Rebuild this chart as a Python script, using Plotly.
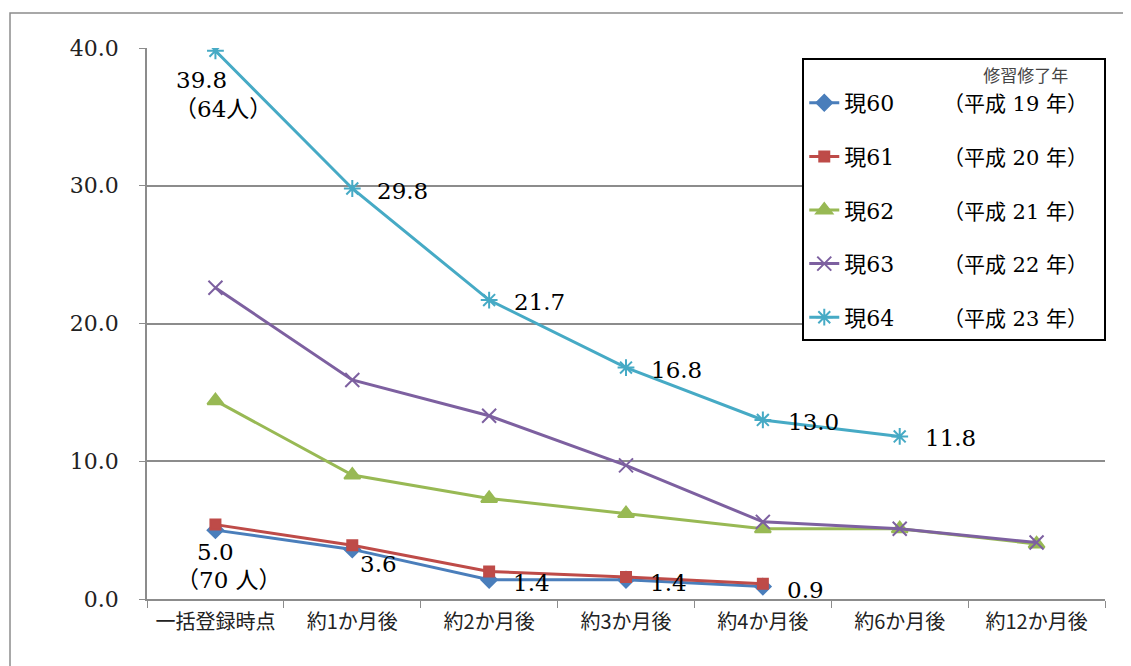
import plotly.graph_objects as go

categories = ["一括登録時点", "約1か月後", "約2か月後", "約3か月後", "約4か月後", "約6か月後", "約12か月後"]

names = ["現60", "現61", "現62", "現63", "現64"]
years = ["（平成 19 年）", "（平成 20 年）", "（平成 21 年）", "（平成 22 年）", "（平成 23 年）"]
gen60 = [5.0, 3.6, 1.4, 1.4, 0.9]
gen61 = [5.4, 3.9, 2.0, 1.6, 1.1]
gen62 = [14.4, 9.0, 7.3, 6.2, 5.1, 5.1, 4.0]
gen63 = [22.6, 15.9, 13.3, 9.7, 5.6, 5.1, 4.1]
gen64 = [39.8, 29.8, 21.7, 16.8, 13.0, 11.8]
notes = {"現60": "（70 人）", "現64": "（64人）"}

series = [gen60, gen61, gen62, gen63, gen64]
colors = ["#4A7EBB", "#BE4B48", "#98B954", "#7D60A0", "#46AAC5"]
symbols = ["diamond", "square", "triangle-up", "x-thin-open", "asterisk-open"]
sizes = [12, 10, 14, 14, 14]

serif = "DejaVu Serif, Noto Sans CJK JP"

fig = go.Figure()
for i, (name, vals) in enumerate(zip(names, series)):
    fig.add_trace(go.Scatter(
        x=categories[:len(vals)], y=vals,
        name=name + "<span style='font-size:21px'>　　 " + years[i] + "　</span>",
        legendgroup=name,
        mode="lines+markers",
        line=dict(color=colors[i], width=3),
        marker=dict(symbol=symbols[i], size=sizes[i], color=colors[i],
                    line=dict(color=colors[i], width=2)),
    ))

# data labels for 現64 and 現60
for j, v in enumerate(gen64):
    if j == 0:
        fig.add_annotation(x=categories[j], y=v, text=f"{v:.1f}", showarrow=False,
                           xshift=-14, yshift=-29)
        fig.add_annotation(x=categories[j], y=v, text=notes["現64"], showarrow=False,
                           xshift=8, yshift=-58)
    else:
        fig.add_annotation(x=categories[j], y=v, text=f"{v:.1f}", showarrow=False,
                           xanchor="left", xshift=23, yshift=-2)

for j, v in enumerate(gen60):
    if j == 0:
        fig.add_annotation(x=categories[j], y=v, text=f"{v:.1f}", showarrow=False,
                           yshift=-22)
        fig.add_annotation(x=categories[j], y=v, text=notes["現60"], showarrow=False,
                           xshift=14, yshift=-50)
    elif j == 1:
        fig.add_annotation(x=categories[j], y=v, text=f"{v:.1f}", showarrow=False,
                           xanchor="left", xshift=6, yshift=-15)
    else:
        fig.add_annotation(x=categories[j], y=v, text=f"{v:.1f}", showarrow=False,
                           xanchor="left", xshift=22, yshift=-3)

# outer chart frame
fig.add_shape(type="rect", xref="paper", yref="paper",
              x0=-0.143, x1=1.035, y0=-0.135, y1=1.0635,
              line=dict(color="#8C8C8C", width=1.5), layer="below")

fig.update_layout(
    width=1123, height=658,
    margin=dict(l=139, r=26, t=40, b=67),
    paper_bgcolor="white", plot_bgcolor="white",
    font=dict(family=serif, size=23, color="black"),
    showlegend=True,
    legend=dict(
        x=0.684, y=0.982, xanchor="left", yanchor="top",
        bordercolor="black", borderwidth=2, bgcolor="white",
        font=dict(family=serif, size=22),
        tracegroupgap=22,
        title=dict(text="修習修了年　　", side="top right",
                   font=dict(family="Noto Sans CJK JP", size=17, color="#444")),
    ),
    xaxis=dict(
        type="category", range=[-0.5, 6.5],
        showline=True, linecolor="#8C8C8C", linewidth=1.5,
        ticks="outside", tickson="boundaries", ticklen=7, tickcolor="#8C8C8C",
        showgrid=False,
        tickfont=dict(family="Noto Sans CJK JP", size=20, color="#222"),
        ticklabelstandoff=4,
    ),
    yaxis=dict(
        range=[0, 40], dtick=10, tickformat=".1f",
        showline=True, linecolor="#8C8C8C", linewidth=1.5,
        ticks="outside", ticklen=6, tickcolor="#8C8C8C",
        showgrid=True, gridcolor="#8C8C8C", gridwidth=1.5,
        zeroline=False,
        tickfont=dict(family=serif, size=22, color="#222"),
        ticklabelstandoff=16,
    ),
)

fig.write_html("out.html")
